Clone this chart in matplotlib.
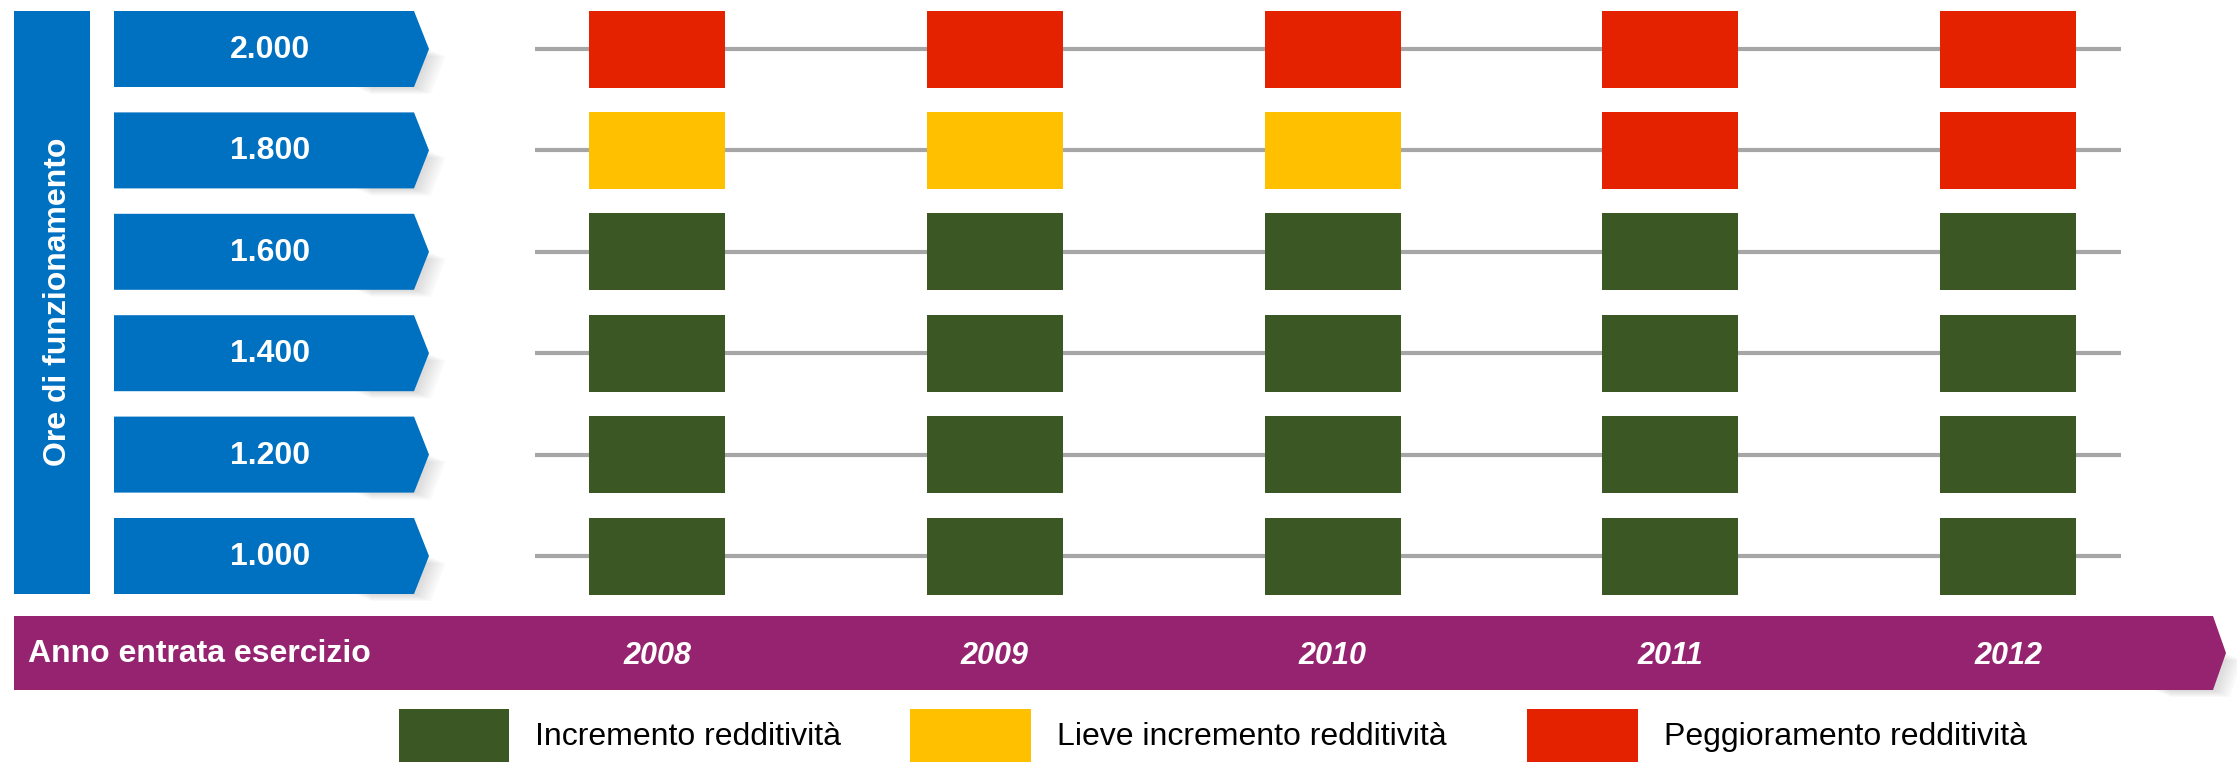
import matplotlib.pyplot as plt
from matplotlib.patches import Polygon, Rectangle

plt.rcParams['font.family'] = ['Liberation Sans Narrow', 'Liberation Sans', 'DejaVu Sans']

# data
hours = ['2.000', '1.800', '1.600', '1.400', '1.200', '1.000']
years = ['2008', '2009', '2010', '2011', '2012']
# I = incremento, L = lieve incremento, P = peggioramento
status = [
    ['P', 'P', 'P', 'P', 'P'],
    ['L', 'L', 'L', 'P', 'P'],
    ['I', 'I', 'I', 'I', 'I'],
    ['I', 'I', 'I', 'I', 'I'],
    ['I', 'I', 'I', 'I', 'I'],
    ['I', 'I', 'I', 'I', 'I'],
]
legend_codes = ['I', 'L', 'P']
legend_labels = ['Incremento redditività', 'Lieve incremento redditività', 'Peggioramento redditività']
colors = {'I': '#3A5724', 'L': '#FFC000', 'P': '#E52200'}

BLUE = '#0070C0'
PURPLE = '#962370'

# layout (pixels)
W, H = 2237, 762
col_x0, col_dx = 657, 337.8
row_y0, row_dy = 49, 101.4
box_w, box_h = 136, 77


def arrow(ax, x0, x1, tip, y0, y1, color, shadow=True):
    ym = (y0 + y1) / 2
    pts = [(x0, y0), (x1, y0), (tip, ym), (x1, y1), (x0, y1)]
    if shadow:
        # soft shadow cast by the lower slanted edge
        base = [(x1 - 60, ym), (tip, ym), (x1, y1), (x1 - 60, y1)]
        for k in range(2, 16, 2):
            sp = [(x + k * 1.2, y + k * 0.5) for x, y in base]
            ax.add_patch(Polygon(sp, closed=True, color='#707070', alpha=0.035,
                                 lw=0, zorder=1))
    ax.add_patch(Polygon(pts, closed=True, color=color, lw=0, zorder=2))


fig = plt.figure(figsize=(W / 100, H / 100), dpi=100)
ax = fig.add_axes([0, 0, 1, 1])
ax.set_xlim(0, W)
ax.set_ylim(H, 0)
ax.axis('off')

# vertical label bar
ax.add_patch(Rectangle((14, 11), 76, 583, color=BLUE, lw=0, zorder=2))
ax.text(58, 302, 'Ore di funzionamento', rotation=90, color='white', fontsize=23,
        fontweight='bold', ha='center', va='center', zorder=3)

for i, h in enumerate(hours):
    yc = row_y0 + i * row_dy
    arrow(ax, 114, 414, 429, yc - 38, yc + 38, BLUE)
    ax.text(270, yc + 1, h, color='white', fontsize=23, fontweight='bold',
            ha='center', va='center', zorder=3)
    ax.plot([535, 2121], [yc, yc], color='#A6A6A6', lw=3, zorder=1, solid_capstyle='butt')
    for j, s in enumerate(status[i]):
        xc = col_x0 + j * col_dx
        ax.add_patch(Rectangle((xc - box_w / 2, yc - box_h / 2), box_w, box_h,
                               color=colors[s], lw=0, zorder=2))

# year arrow
arrow(ax, 14, 2213, 2226, 616, 690, PURPLE)
ax.text(28, 654, 'Anno entrata esercizio', color='white', fontsize=23,
        fontweight='bold', ha='left', va='center', zorder=3)
for j, y in enumerate(years):
    ax.text(col_x0 + j * col_dx, 656, y, color='white', fontsize=22,
            fontweight='bold', fontstyle='italic', ha='center', va='center', zorder=3)

# legend
leg_x = [399, 910, 1527]
leg_w = [110, 121, 111]
for k, code in enumerate(legend_codes):
    ax.add_patch(Rectangle((leg_x[k], 709), leg_w[k], 60, color=colors[code], lw=0, zorder=2))
    ax.text(leg_x[k] + leg_w[k] + 26, 737, legend_labels[k], fontsize=23,
            ha='left', va='center', color='black', zorder=3)

fig.savefig('out.png', dpi=100)
